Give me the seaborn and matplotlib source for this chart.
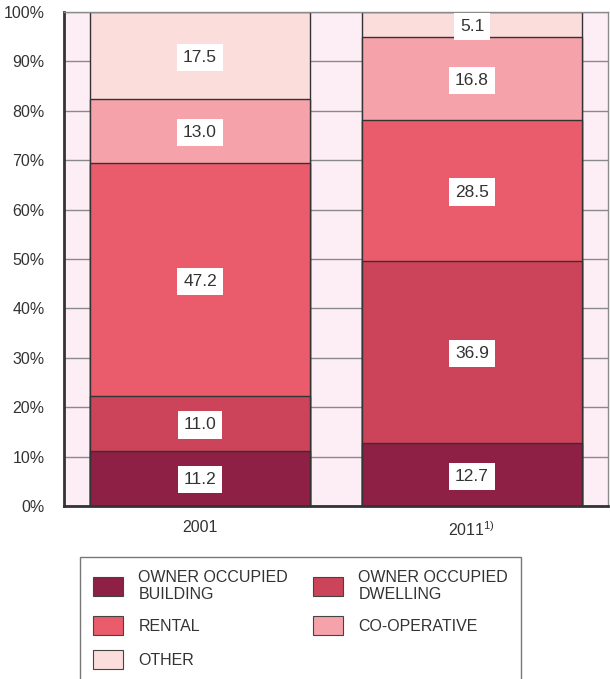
import numpy as np
import pandas as pd
from matplotlib import pyplot as plt
from matplotlib.patches import Patch
from matplotlib.ticker import FixedLocator
import seaborn as sns

# --- dane ---
years = ["2001", "2011$^{\\mathrm{1)}}$"]
tenures = ["OWNER OCCUPIED\nBUILDING", "OWNER OCCUPIED\nDWELLING", "RENTAL",
           "CO-OPERATIVE", "OTHER"]
building = [11.2, 12.7]
dwelling = [11.0, 36.9]
rental = [47.2, 28.5]
coop = [13.0, 16.8]
other = [17.5, 5.1]
colors = ["#8e1f45", "#cc4459", "#ea5b6b", "#f5a2aa", "#fbdedc"]

sns.set_style("white")
plt.rcParams['font.family'] = ['Liberation Sans', 'DejaVu Sans']
plt.rcParams['mathtext.fontset'] = 'custom'
plt.rcParams['mathtext.rm'] = 'Liberation Sans'
plt.rcParams['text.color'] = '#333333'

series = [building, dwelling, rental, coop, other]
df = pd.DataFrame(np.array(series).T, columns=tenures)
df["year"] = years
cum = df[tenures].cumsum(axis=1)

fig = plt.figure(figsize=(6.1, 6.79), dpi=100)
ax = fig.add_axes([64 / 610, 1 - 506 / 679, (608 - 64) / 610, (506 - 12) / 679])
ax.set_facecolor("#fdeef5")

# skumulowane słupki - od góry do dołu
for name, col in reversed(list(zip(tenures, colors))):
    sns.barplot(x=df["year"], y=cum[name], color=col, width=0.806,
                edgecolor="#333333", linewidth=1.0, saturation=1, ax=ax, zorder=2)

# etykiety wartości
for i in range(len(years)):
    for name in tenures:
        v = df.loc[i, name]
        mid = cum.loc[i, name] - v / 2
        ax.text(i, mid - 0.3, f"{v:.1f}", ha="center", va="center", fontsize=12.5,
                color="#333333", zorder=3,
                bbox=dict(boxstyle="square,pad=0.35", facecolor="white", edgecolor="none"))

ax.set_xlim(-0.5, 1.5)
ax.set_ylim(0, 100)
ax.set_yticks(np.arange(0, 101, 10))
ax.set_yticklabels([f"{t}%" for t in range(0, 101, 10)], fontsize=11.5, color="#333333")
ax.yaxis.grid(True, color="#8a8a8a", linewidth=1)
ax.set_axisbelow(True)
ax.tick_params(axis="y", length=10, width=1, color="#8a8a8a", pad=4)
ax.set_xticks([0, 1])
ax.set_xticklabels(years, fontsize=11.5, color="#333333")
ax.xaxis.set_minor_locator(FixedLocator([-0.5, 0.5, 1.5]))
ax.tick_params(axis="x", which="major", length=0, pad=10)
ax.tick_params(axis="x", which="minor", length=8, width=1.2, color="#333333")
ax.set_xlabel("")
ax.set_ylabel("")

for side in ["left", "bottom"]:
    ax.spines[side].set_color("#333333")
    ax.spines[side].set_linewidth(2)
for side in ["right", "top"]:
    ax.spines[side].set_color("#8a8a8a")
    ax.spines[side].set_linewidth(1)

# legenda (kolejność kolumnowa -> układ wierszowy jak w oryginale)
handles = [Patch(facecolor=c, edgecolor="#444444", linewidth=0.8) for c in colors]
order = [0, 2, 4, 1, 3]
leg = fig.legend([handles[k] for k in order], [tenures[k] for k in order],
                 loc="upper left", bbox_to_anchor=(80 / 610, 1 - 557 / 679),
                 borderaxespad=0, ncol=2, fontsize=11.5, frameon=True, fancybox=False,
                 edgecolor="#555555", handlelength=1.9, handleheight=1.5,
                 handletextpad=0.95, columnspacing=1.55, labelspacing=0.9,
                 borderpad=0.8)
leg.get_frame().set_linewidth(1)
for t in leg.get_texts():
    t.set_linespacing(1.15)

plt.savefig("out.png", dpi=100)
